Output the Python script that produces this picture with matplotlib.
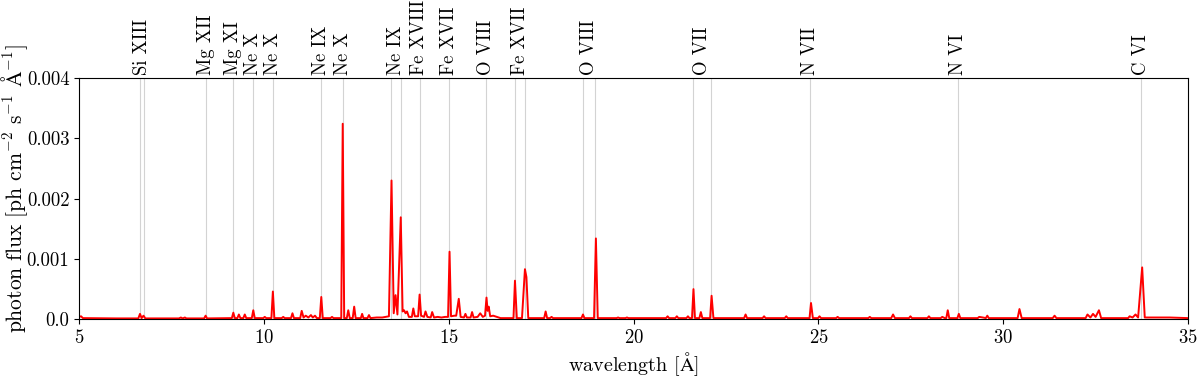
import matplotlib
matplotlib.use("Agg")
import matplotlib.pyplot as plt
import numpy as np

plt.rcParams["font.family"] = "serif"
plt.rcParams["font.serif"] = ["cmr10", "DejaVu Serif"]
plt.rcParams["mathtext.fontset"] = "cm"
plt.rcParams["axes.formatter.use_mathtext"] = True
plt.rcParams["font.size"] = 13

# spectrum (wavelength in Angstrom, flux)
wavelength = [
    5.00, 5.05, 5.10, 6.00, 6.60, 6.645, 6.69, 6.74, 6.79, 7.70, 7.75, 7.80, 7.86, 7.90,
    8.38, 8.42, 8.46, 9.13, 9.17, 9.21, 9.28, 9.32, 9.36, 9.44, 9.48, 9.52, 9.67, 9.71,
    9.75, 9.98, 10.02, 10.06, 10.20, 10.24, 10.28, 10.48, 10.52, 10.56, 10.73, 10.77,
    10.81, 10.98, 11.02, 11.07, 11.13, 11.20, 11.27, 11.32, 11.38, 11.43, 11.51, 11.55,
    11.59, 11.80, 11.84, 11.88, 12.09, 12.13, 12.17, 12.24, 12.28, 12.32, 12.40, 12.44,
    12.48, 12.62, 12.655, 12.69, 12.80, 12.84, 12.88, 13.05, 13.20, 13.38, 13.45, 13.51,
    13.56, 13.61, 13.70, 13.75, 13.79, 13.83, 13.87, 13.92, 14.00, 14.04, 14.08, 14.17,
    14.21, 14.25, 14.33, 14.37, 14.42, 14.51, 14.55, 14.60, 14.70, 14.80, 14.90, 14.98,
    15.02, 15.06, 15.15, 15.20, 15.27, 15.32, 15.41, 15.45, 15.49, 15.59, 15.63, 15.67,
    15.78, 15.85, 15.92, 15.98, 16.02, 16.05, 16.08, 16.12, 16.20, 16.30, 16.40, 16.75,
    16.79, 16.84, 16.98, 17.06, 17.10, 17.15, 17.58, 17.62, 17.66, 17.74, 17.78, 17.82,
    18.59, 18.63, 18.67, 18.93, 18.98, 19.03, 19.54, 19.58, 19.62, 19.78, 19.82, 19.86,
    20.88, 20.92, 20.96, 21.13, 21.17, 21.21, 21.43, 21.47, 21.51, 21.58, 21.62, 21.66,
    21.78, 21.82, 21.86, 22.07, 22.11, 22.16, 22.99, 23.03, 23.07, 23.49, 23.53, 23.57,
    24.09, 24.13, 24.17, 24.76, 24.80, 24.85, 24.99, 25.03, 25.07, 25.48, 25.52, 25.56,
    26.35, 26.39, 26.43, 26.97, 27.02, 27.07, 27.45, 27.49, 27.53, 27.95, 27.99, 28.03,
    28.31, 28.35, 28.42, 28.46, 28.50, 28.54, 28.76, 28.80, 28.84, 29.31, 29.35, 29.45,
    29.53, 29.57, 29.61, 30.39, 30.44, 30.50, 31.34, 31.39, 31.44, 32.23, 32.28, 32.36,
    32.43, 32.50, 32.59, 32.65, 33.38, 33.42, 33.50, 33.58, 33.65, 33.76, 33.83, 34.50,
    35.00,
]
flux = [
    4e-5, 5e-5, 2e-5, 1.5e-5, 1.5e-5, 9e-5, 2e-5, 6e-5, 1.5e-5, 1.5e-5, 3e-5, 1.5e-5, 3e-5, 1.5e-5,
    1.5e-5, 6e-5, 1.5e-5, 2e-5, 1.1e-4, 2e-5, 2e-5, 8e-5, 2e-5, 2e-5, 8e-5, 2e-5, 2e-5, 1.5e-4,
    2e-5, 2e-5, 4e-5, 2e-5, 2e-5, 4.6e-4, 2e-5, 2e-5, 4e-5, 2e-5, 2e-5, 1.0e-4,
    2e-5, 2e-5, 1.4e-4, 3e-5, 6e-5, 3e-5, 7e-5, 3e-5, 6e-5, 2e-5, 2e-5, 3.7e-4,
    2e-5, 2e-5, 4e-5, 2e-5, 2e-5, 3.24e-3, 2e-5, 2e-5, 1.5e-4, 2e-5, 2e-5, 2.1e-4,
    2e-5, 2e-5, 9e-5, 2e-5, 2e-5, 7e-5, 2e-5, 3e-5, 3e-5, 5e-5, 2.30e-3, 1.0e-4,
    4.0e-4, 8e-5, 1.69e-3, 1.3e-4, 1.5e-4, 1.0e-4, 1.3e-4, 4e-5, 4e-5, 1.8e-4, 5e-5, 5e-5,
    4.1e-4, 6e-5, 4e-5, 1.3e-4, 4e-5, 3e-5, 1.2e-4, 3e-5, 4e-5, 3e-5, 4e-5, 4e-5,
    1.12e-3, 5e-5, 6e-5, 6e-5, 3.4e-4, 4e-5, 3e-5, 9e-5, 3e-5, 3e-5, 1.2e-4, 3e-5,
    4e-5, 1.0e-4, 4e-5, 6e-5, 3.6e-4, 1.4e-4, 2.1e-4, 5e-5, 6e-5, 4e-5, 2e-5, 2e-5,
    6.4e-4, 2e-5, 2e-5, 8.3e-4, 7.0e-4, 2e-5, 2e-5, 1.3e-4, 2e-5, 2e-5, 4e-5, 2e-5,
    2e-5, 8e-5, 2e-5, 2e-5, 1.34e-3, 2e-5, 2e-5, 3e-5, 2e-5, 2e-5, 3e-5, 2e-5,
    2e-5, 5e-5, 2e-5, 2e-5, 5e-5, 2e-5, 2e-5, 5e-5, 2e-5, 2e-5, 5.0e-4, 2e-5,
    2e-5, 1.2e-4, 2e-5, 2e-5, 3.9e-4, 2e-5, 2e-5, 8e-5, 2e-5, 2e-5, 5e-5, 2e-5,
    2e-5, 5e-5, 2e-5, 2e-5, 2.7e-4, 2e-5, 2e-5, 5e-5, 2e-5, 2e-5, 4e-5, 2e-5,
    2e-5, 4e-5, 2e-5, 2e-5, 8e-5, 2e-5, 2e-5, 5e-5, 2e-5, 2e-5, 5e-5, 2e-5,
    2e-5, 4e-5, 2e-5, 2e-5, 1.5e-4, 2e-5, 2e-5, 9e-5, 2e-5, 2e-5, 4e-5, 3e-5,
    2e-5, 6e-5, 2e-5, 2e-5, 1.7e-4, 2e-5, 2e-5, 6e-5, 2e-5, 2e-5, 8e-5, 3e-5,
    9e-5, 4e-5, 1.5e-4, 2e-5, 2e-5, 5e-5, 3e-5, 8e-5, 3e-5, 8.6e-4, 3e-5, 3e-5,
    2e-5,
]

# marked transitions: label and the wavelengths of its lines
ion_labels = ["Si XIII", "Mg XII", "Mg XI", "Ne X", "Ne X", "Ne IX", "Ne X", "Ne IX",
              "Fe XVIII", "Fe XVII", "O VIII", "Fe XVII", "O VIII", "O VII", "N VII",
              "N VI", "C VI"]
ion_lines = [[6.648, 6.740], [8.421], [9.169], [9.708], [10.239], [11.547], [12.134],
             [13.447, 13.699], [14.208], [15.014], [16.006], [16.780, 17.051],
             [18.627, 18.969], [21.602, 22.098], [24.781], [28.787], [33.736]]

fig = plt.figure(figsize=(12, 3.79), dpi=100)
ax = fig.add_axes([0.066, 0.1575, 0.924, 0.637])

for lab, lines in zip(ion_labels, ion_lines):
    for wl in lines:
        ax.axvline(wl, color="lightgray", lw=0.8, zorder=1)
    ax.text(np.mean(lines), 1.01, lab, transform=ax.get_xaxis_transform(),
            rotation=90, ha="center", va="bottom", fontsize=13.5)

ax.plot(wavelength, flux, color="red", lw=1.4, zorder=2)

ax.set_xlim(5, 35)
ax.set_ylim(0, 0.004)
ax.set_yticks([0, 0.001, 0.002, 0.003, 0.004])
ax.set_yticklabels(["0.0", "0.001", "0.002", "0.003", "0.004"])
ax.tick_params(labelsize=13.5)
ax.set_xlabel(r"wavelength [$\mathrm{\AA}$]", fontsize=14.5, labelpad=2)
ax.set_ylabel(r"photon flux [ph cm$^{-2}$ s$^{-1}$ $\mathrm{\AA}^{-1}$]", fontsize=15.5,
              va="center")
ax.yaxis.set_label_coords(-0.058, 0.54)

plt.savefig("out.png", dpi=100)
plt.close()
